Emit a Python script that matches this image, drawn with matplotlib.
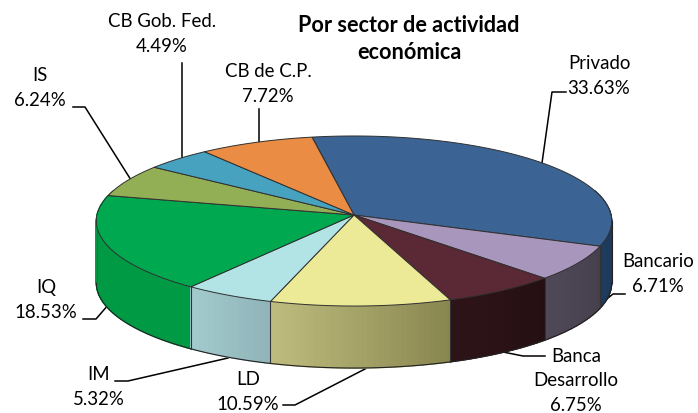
import matplotlib
matplotlib.use("Agg")
import matplotlib.pyplot as plt
from matplotlib.colors import to_rgb
import numpy as np

plt.rcParams['font.family'] = ['Lato', 'DejaVu Sans']

# values, clockwise from Privado
sectors = ['Privado', 'Bancario', 'Banca\nDesarrollo', 'LD', 'IM', 'IQ', 'IS', 'CB Gob. Fed.', 'CB de C.P.']
shares = [33.63, 6.71, 6.75, 10.59, 5.32, 18.53, 6.24, 4.49, 7.72]

top_colors = ['#3B6494', '#A896BC', '#5B2836', '#ECE997', '#B2E4E6', '#00A84F', '#93AF55', '#46A2BE', '#EA8C44']
wall_left = ['#1E3A5C', '#4F4858', '#2E1418', '#BFBD7E', '#A3CCCE', '#009A44', '#7F9A48', '#3A8CA6', '#CC7A3A']
wall_right = ['#16304E', '#463F4C', '#250F13', '#88864F', '#90B4B9', '#009A44', '#7F9A48', '#3A8CA6', '#CC7A3A']

# chart geometry in pixels
cx, cy = 354, 215
rx, ry = 257, 84.6
persp = 0.0706
depth = 62
start = 100

fig = plt.figure(figsize=(6.98, 4.13), dpi=100)
ax = fig.add_axes([0, 0, 1, 1])
ax.set_xlim(0, 698)
ax.set_ylim(413, 0)
ax.axis('off')


def rim(theta):
    t = np.radians(theta)
    w = 1 + persp * np.sin(t)
    return cx + rx * np.cos(t) / w, cy - ry * np.sin(t) / w


edges = start - np.cumsum([0] + shares) * 3.6

### leader lines
leaders = [
    ([566, 552, 542], [92, 92, 163]),
    ([625, 613, 577], [294, 294, 323]),
    ([545, 523, 503], [356, 356, 352]),
    ([283, 295, 365], [405, 405, 369]),
    ([115, 128, 228], [381, 381, 358]),
    ([83, 96, 109], [319, 319, 304]),
    ([73, 85, 131], [107, 107, 180]),
    ([182, 182], [63, 159]),
    ([259, 259], [109, 143]),
]
for lx, ly in leaders:
    ax.plot(lx, ly, color='black', lw=1.1, zorder=1)

### walls, back to front
quads = []
for i in range(len(shares)):
    th = np.linspace(edges[i], edges[i + 1], int(shares[i] * 3) + 2)
    c0, c1 = np.array(to_rgb(wall_left[i])), np.array(to_rgb(wall_right[i]))
    for j in range(len(th) - 1):
        mid = (th[j] + th[j + 1]) / 2
        if np.sin(np.radians(mid)) > 0.3:
            continue
        # wall_left is the colour at the left end on screen
        f = (j + 0.5) / (len(th) - 1)
        col = c1 + (c0 - c1) * f
        x0, y0 = rim(th[j])
        x1, y1 = rim(th[j + 1])
        quads.append((-np.sin(np.radians(mid)), [x0, x1, x1, x0], [y0, y1, y1 + depth, y0 + depth], col))
for q in sorted(quads, key=lambda q: q[0]):
    ax.fill(q[1], q[2], facecolor=q[3], edgecolor=q[3], lw=1.0, zorder=2)

# wall outlines
for i in range(len(shares)):
    th = np.linspace(edges[i], edges[i + 1], 80)
    th = th[np.sin(np.radians(th)) < -0.07]
    if len(th) == 0:
        continue
    x, y = rim(th)
    ax.plot(x, y + depth, color='#222222', lw=0.8, zorder=3)
for e in edges[1:6]:
    x, y = rim(e)
    ax.plot([x, x], [y, y + depth], color='#333333', lw=0.8, zorder=3)
ax.plot([97, 97], [221, 283], color='#555555', lw=0.8, zorder=3)
ax.plot([611.5, 611.5], [221, 283], color='#222222', lw=0.8, zorder=3)

### top slices
for i in range(len(shares)):
    th = np.linspace(edges[i], edges[i + 1], 120)
    x, y = rim(th)
    ax.fill(np.r_[cx, x], np.r_[cy, y], facecolor=top_colors[i], edgecolor='#303030', lw=0.7, zorder=4)

### labels
label_pos = [(599, 76), (658, 274), (576, 381), (248, 392), (99, 387), (46, 300), (40, 88), (162, 34), (268, 84)]
for name, val, (lx, ly) in zip(sectors, shares, label_pos):
    ax.text(lx, ly, f'{name}\n{val:.2f}%', ha='center', va='center', fontsize=13.4,
            linespacing=1.55, color='black', zorder=6)

ax.text(409, 39, 'Por sector de actividad\neconómica', ha='center', va='center', fontsize=15.6,
        fontweight='bold', linespacing=1.4, color='black', zorder=6)

fig.savefig('out.png', dpi=100)
